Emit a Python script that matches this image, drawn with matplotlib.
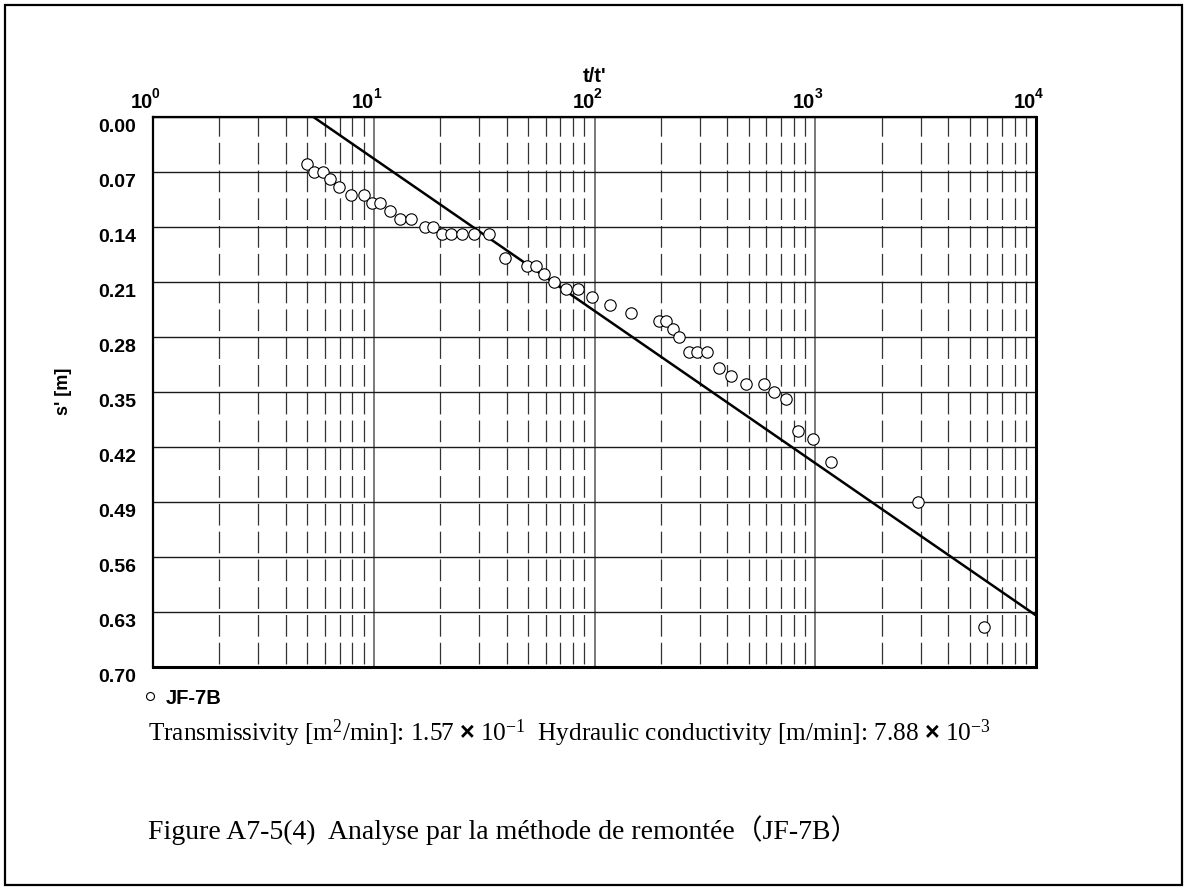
import matplotlib
matplotlib.use("Agg")
import matplotlib.pyplot as plt
from matplotlib.patches import Rectangle
from matplotlib.ticker import FixedLocator, LogLocator, NullFormatter
from matplotlib.transforms import ScaledTranslation
import numpy as np

plt.rcParams['lines.scale_dashes'] = False
plt.rcParams['mathtext.fontset'] = 'custom'
plt.rcParams['mathtext.rm'] = 'Liberation Serif'
plt.rcParams['mathtext.it'] = 'Liberation Serif:italic'
plt.rcParams['mathtext.bf'] = 'Liberation Sans:bold'

# recovery test JF-7B : t/t' vs residual drawdown s'
t_ratio = [5.01, 5.37, 5.88, 6.35, 6.96, 7.90, 9.01, 9.80, 10.7, 11.8,
           13.1, 14.7, 17.1, 18.6, 20.4, 22.5, 25.0, 28.5, 33.3, 39.5,
           49.6, 54.3, 58.9, 65.8, 74.1, 84.4, 97.7, 118, 146, 196,
           210, 226, 242, 268, 291, 323, 366, 417, 486, 583,
           649, 736, 834, 980, 1175, 2906, 5833]
s_resid = [0.06, 0.07, 0.07, 0.08, 0.09, 0.10, 0.10, 0.11, 0.11, 0.12,
           0.13, 0.13, 0.14, 0.14, 0.15, 0.15, 0.15, 0.15, 0.15, 0.18,
           0.19, 0.19, 0.20, 0.21, 0.22, 0.22, 0.23, 0.24, 0.25, 0.26,
           0.26, 0.27, 0.28, 0.30, 0.30, 0.30, 0.32, 0.33, 0.34, 0.34,
           0.35, 0.36, 0.40, 0.41, 0.44, 0.49, 0.65]

# straight-line fit (Theis recovery)
fit_x = [5.29, 10000]
fit_s = [0.0, 0.635]

y_ticks = [0.00, 0.07, 0.14, 0.21, 0.28, 0.35, 0.42, 0.49, 0.56, 0.63, 0.70]
x_decades = [1, 10, 100, 1000, 10000]

W, H = 1187, 890
fig = plt.figure(figsize=(W / 100, H / 100), dpi=100)
ax = fig.add_axes([153 / W, 1 - 666.5 / H, (1036 - 153) / W, 550 / H])

ax.set_xscale('log')
ax.set_xlim(1, 1e4)
ax.set_ylim(0.70, 0.0)

ax.xaxis.tick_top()
ax.xaxis.set_label_position('top')
ax.xaxis.set_major_locator(FixedLocator(x_decades))
ax.xaxis.set_minor_locator(LogLocator(base=10, subs=np.arange(2, 10)))
ax.xaxis.set_minor_formatter(NullFormatter())
ax.xaxis.set_major_formatter(NullFormatter())
ax.set_yticks(y_ticks)
ax.yaxis.set_ticklabels([])
ax.tick_params(which='both', length=0)

bold = dict(fontfamily='Liberation Sans', fontweight='bold')

# decade labels: "10" ends on the grid line, exponent just right of it
xt = ax.get_xaxis_transform()
for v in x_decades:
    ax.text(v, 1, '10', transform=xt + ScaledTranslation(0, 9 / 100, fig.dpi_scale_trans),
            ha='right', va='baseline', fontsize=14.5, **bold)
    ax.text(v, 1, '%d' % int(np.log10(v)),
            transform=xt + ScaledTranslation(-1 / 100, 18 / 100, fig.dpi_scale_trans),
            ha='left', va='baseline', fontsize=10, **bold)

# y labels sit a little below their grid lines
yt = ax.get_yaxis_transform() + ScaledTranslation(-17 / 100, -11 / 100, fig.dpi_scale_trans)
for v in y_ticks:
    ax.text(0, v, '%.2f' % v, transform=yt, ha='right', va='center',
            fontsize=14, **bold)

# grid
ax.grid(which='major', axis='y', color='#1a1a1a', lw=1.0)
ax.grid(which='major', axis='x', color='#555555', lw=1.1)
ax.grid(which='minor', axis='x', color='#333333', lw=0.9,
        linestyle=(17.8, (15.6, 4.4)))
ax.set_axisbelow(True)

for side in ['top', 'left']:
    ax.spines[side].set_linewidth(1.6)
for side in ['bottom', 'right']:
    ax.spines[side].set_linewidth(2.2)

ax.plot(fit_x, fit_s, color='black', lw=1.8, zorder=3)
ax.plot(t_ratio, s_resid, linestyle='none', marker='o', ms=8.2,
        mfc='white', mec='black', mew=0.8, zorder=4, label='JF-7B')

ax.set_xlabel("t/t'", fontsize=14.5, **bold)
ax.xaxis.set_label_coords(0.5, 1 + (116.5 - 76) / 550)
ax.xaxis.label.set_va('center')
ax.set_ylabel("s' [m]", fontsize=13, **bold)
ax.yaxis.set_label_coords((72 - 153) / 883, 0.5)

leg = ax.legend(loc='center left', bbox_to_anchor=(144 / W, 1 - 698 / H),
                bbox_transform=fig.transFigure, frameon=False,
                handlelength=0.6, handletextpad=0.5, markerscale=0.7,
                borderpad=0, borderaxespad=0,
                prop={'family': 'Liberation Sans', 'weight': 'bold',
                      'size': 14.5})

fig.text(148 / W, 1 - 733 / H,
         r"Transmissivity [m$^{2}$/min]: 1.57 $\mathbf{\times}$ 10$^{-1}$  "
         r"Hydraulic conductivity [m/min]: 7.88 $\mathbf{\times}$ 10$^{-3}$",
         fontfamily='Liberation Serif', fontsize=18.2, va='center', ha='left')

fig.text(148 / W, 1 - 830 / H,
         "Figure A7-5(4)  Analyse par la méthode de remontée（JF-7B）",
         family=['Liberation Serif', 'Noto Sans CJK JP'], fontsize=20,
         va='center', ha='left')

fig.patches.append(Rectangle((5 / W, 5 / H), 1177 / W, 880 / H,
                             transform=fig.transFigure, fill=False,
                             ec='black', lw=1.6))

fig.savefig('out.png', dpi=100)
